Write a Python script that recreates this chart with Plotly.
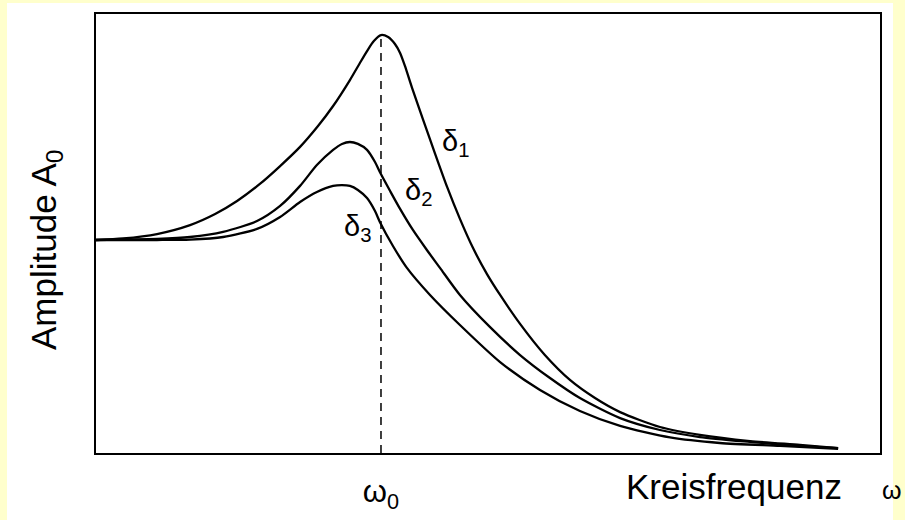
import plotly.graph_objects as go

# frequency in units of omega_0, amplitude in units of the static amplitude
w_d1 = [0, 0.095, 0.214, 0.330, 0.418, 0.495, 0.575, 0.646, 0.716, 0.779, 0.832, 0.891, 0.926, 0.951,
        0.975, 1.000, 1.025, 1.049, 1.067, 1.084, 1.109, 1.147, 1.189, 1.232, 1.277, 1.323, 1.372,
        1.418, 1.488, 1.575, 1.663, 1.751, 1.839, 1.979, 2.119, 2.295, 2.470, 2.604]
a_d1 = [1.000, 1.007, 1.028, 1.070, 1.122, 1.183, 1.263, 1.347, 1.437, 1.535, 1.629, 1.751, 1.831, 1.887,
        1.934, 1.962, 1.953, 1.920, 1.878, 1.817, 1.714, 1.568, 1.408, 1.249, 1.099, 0.962, 0.840,
        0.742, 0.606, 0.460, 0.343, 0.258, 0.192, 0.122, 0.085, 0.056, 0.038, 0.023]

w_d2 = [0, 0.214, 0.330, 0.446, 0.565, 0.646, 0.716, 0.775, 0.832, 0.863, 0.891, 0.919, 0.951, 0.979,
        0.996, 1.032, 1.067, 1.112, 1.161, 1.207, 1.277, 1.382, 1.488, 1.593, 1.698, 1.839, 1.979,
        2.119, 2.295, 2.470, 2.604]
a_d2 = [1.000, 1.005, 1.014, 1.038, 1.089, 1.160, 1.254, 1.352, 1.423, 1.451, 1.460, 1.451, 1.423, 1.366,
        1.319, 1.230, 1.146, 1.047, 0.953, 0.869, 0.742, 0.592, 0.460, 0.352, 0.258, 0.164, 0.108,
        0.075, 0.052, 0.033, 0.023]

w_d3 = [0, 0.214, 0.330, 0.446, 0.565, 0.646, 0.716, 0.775, 0.832, 0.863, 0.891, 0.919, 0.951, 0.979,
        0.996, 1.042, 1.091, 1.172, 1.277, 1.418, 1.558, 1.698, 1.839, 2.014, 2.189, 2.400, 2.604]
a_d3 = [1.000, 1.000, 1.002, 1.014, 1.052, 1.108, 1.178, 1.225, 1.254, 1.258, 1.254, 1.235, 1.197, 1.136,
        1.085, 0.972, 0.869, 0.742, 0.601, 0.427, 0.296, 0.197, 0.127, 0.073, 0.047, 0.033, 0.019]

curve_labels = ["δ<sub>1</sub>", "δ<sub>2</sub>", "δ<sub>3</sub>"]
label_w = [1.263, 1.130, 0.919]
label_a = [1.455, 1.225, 1.056]

omega0 = [1.0, 1.0]
omega0_amp = [0.0, 1.962]

x_tickvals = [1.0]
x_ticktext = ["ω<sub>0</sub>"]

FONT = "Liberation Sans, Arial, Helvetica, sans-serif"

fig = go.Figure()
for w, a in [(w_d1, a_d1), (w_d2, a_d2), (w_d3, a_d3)]:
    fig.add_trace(go.Scatter(x=w, y=a, mode="lines",
                             line=dict(color="black", width=2.3, shape="spline", smoothing=0.7),
                             showlegend=False, hoverinfo="skip"))
fig.add_trace(go.Scatter(x=omega0, y=omega0_amp, mode="lines",
                         line=dict(color="black", width=1.5, dash="8px,6px"),
                         showlegend=False, hoverinfo="skip"))

for t, xw, ya in zip(curve_labels, label_w, label_a):
    fig.add_annotation(x=xw, y=ya, xref="x", yref="y", text=t, showarrow=False,
                       font=dict(family=FONT, size=29, color="black"))

# axis titles
fig.add_annotation(x=(624 - 96) / 784, y=(453 - 486) / 439, xref="paper", yref="paper",
                   text="Kreisfrequenz", showarrow=False, xanchor="left", yanchor="middle",
                   font=dict(family=FONT, size=35, color="black"))
fig.add_annotation(x=(880 - 96) / 784, y=(453 - 490) / 439, xref="paper", yref="paper",
                   text="ω", showarrow=False, xanchor="left", yanchor="middle",
                   font=dict(family=FONT, size=25, color="black"))
fig.add_annotation(x=(46 - 96) / 784, y=(453 - 250) / 439, xref="paper", yref="paper",
                   text="Amplitude A<sub>0</sub>", showarrow=False, textangle=-90,
                   xanchor="center", yanchor="middle",
                   font=dict(family=FONT, size=35, color="black"))

# white panel inside yellow frame
fig.add_shape(type="rect", xref="paper", yref="paper", layer="below",
              x0=(7 - 96) / 784, x1=(893 - 96) / 784, y0=(453 - 525) / 439, y1=(453 - 3) / 439,
              fillcolor="white", line=dict(width=0))

fig.update_xaxes(range=[0, 2.751], showline=True, mirror=True, linecolor="black", linewidth=2,
                 showgrid=False, zeroline=False, ticks="", tickvals=x_tickvals, ticktext=x_ticktext,
                 tickfont=dict(family=FONT, size=31, color="black"), ticklabelstandoff=10,
                 automargin=False)
fig.update_yaxes(range=[0, 2.061], showline=True, mirror=True, linecolor="black", linewidth=2,
                 showgrid=False, zeroline=False, ticks="", showticklabels=False, automargin=False)

fig.update_layout(width=905, height=520, paper_bgcolor="#FFFFCC", plot_bgcolor="white",
                  margin=dict(l=96, r=25, t=14, b=67), showlegend=False)

fig.write_html(
    "out.html",
    config={"displayModeBar": False},
    post_script=("document.documentElement.style.margin='0px';"
                 "document.body.style.margin='0px';"
                 "document.documentElement.style.overflow='hidden';"
                 "document.body.style.overflow='hidden';"),
)
